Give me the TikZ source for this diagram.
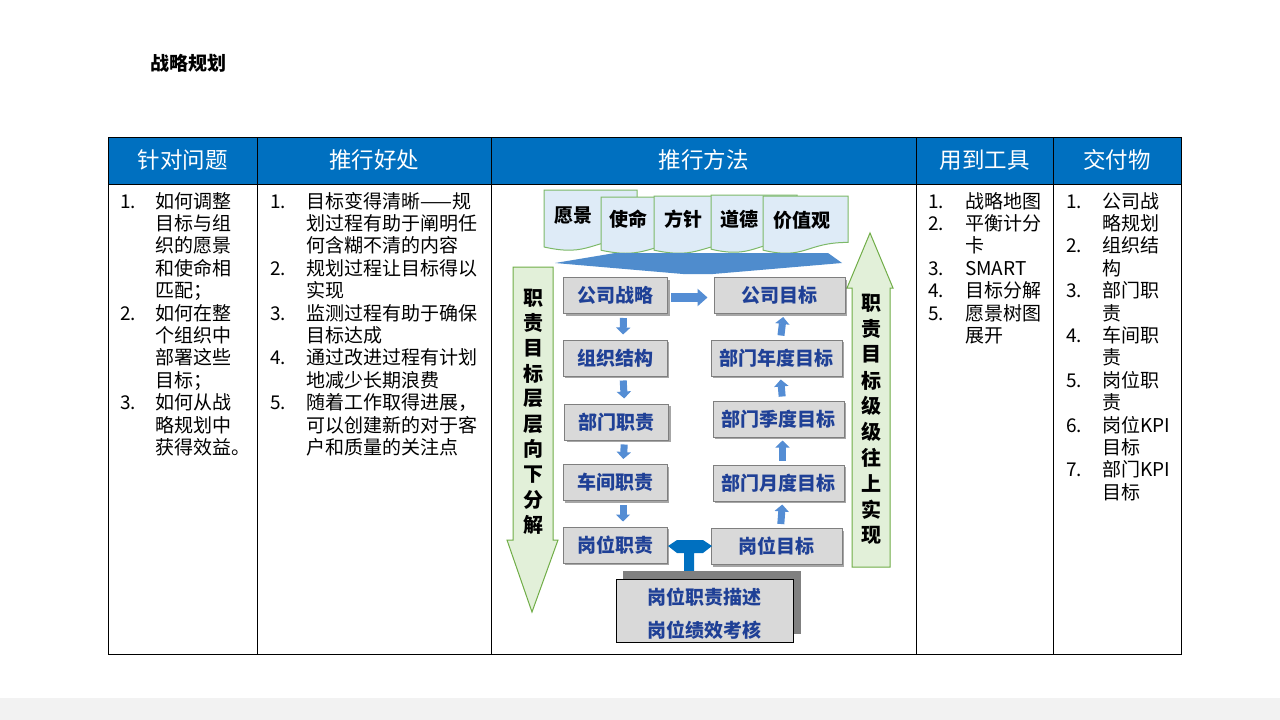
\documentclass[tikz,border=0pt]{standalone}
\usepackage{fontspec}
\setmainfont{Noto Sans CJK SC}
\usetikzlibrary{arrows.meta,shadows}
\definecolor{hdrblue}{RGB}{0,112,192}
\definecolor{boxgray}{RGB}{217,217,217}
\definecolor{boxedge}{RGB}{127,127,127}
\definecolor{txtblue}{RGB}{31,64,150}
\definecolor{docfill}{RGB}{222,235,247}
\definecolor{docedge}{RGB}{125,185,105}
\definecolor{grnfill}{RGB}{226,240,217}
\definecolor{grnedge}{RGB}{112,173,71}
\definecolor{arrblue}{RGB}{84,141,212}
\definecolor{wideblue}{RGB}{79,140,205}
\definecolor{tblue}{RGB}{0,112,192}
\definecolor{footgray}{RGB}{242,242,242}
\newcommand{\docshp}[5]{%
  \draw[docstyle] (#1,#2) -- (#3,#2) -- (#3,{#2+0.80*#4})
    .. controls ({(#1+#3)/2},{#2+0.80*#4}) and ({(#1+#3)/2},{#2+1.107*#4}) .. (#1,{#2+0.934*#4}) -- cycle;}
\begin{document}
\begin{tikzpicture}[x=1pt,y=-1pt,
  body/.style={font=\fontsize{19}{22}\selectfont, anchor=base west, inner sep=0pt},
  hdr/.style={font=\fontsize{22.5}{26}\selectfont, text=white, inner sep=0pt},
  gbox/.style={draw=boxedge, fill=boxgray, line width=1pt, text=txtblue,
    font=\bfseries\fontsize{19}{22}\selectfont, inner sep=0pt,
    drop shadow={shadow xshift=2pt,shadow yshift=-2pt,opacity=0.35,fill=black}},
  lbox/.style={gbox, minimum width=104pt, minimum height=36pt},
  rbox/.style={gbox, minimum width=131pt, minimum height=36pt},
  doctext/.style={font=\bfseries\fontsize{19}{22}\selectfont, inner sep=0pt},
  vchar/.style={font=\bfseries\fontsize{20}{22}\selectfont, inner sep=0pt},
  docstyle/.style={draw=docedge, fill=docfill, line width=1pt},
  smallarr/.style={draw=arrblue, line width=7pt, -{Triangle[width=14pt,length=7pt]}},
  bigarr/.style={draw=arrblue, line width=9pt, -{Triangle[width=17pt,length=10pt]}},
  grid/.style={line width=1pt, draw=black}]
\useasboundingbox (0,0) rectangle (1280,720);
\fill[white] (0,0) rectangle (1280,720);
\fill[footgray] (0,698) rectangle (1280,720);
% title
\node[font=\bfseries\fontsize{19}{22}\selectfont, anchor=base west, inner sep=0pt] (title) at (150,70) {战略规划};
% table
\fill[hdrblue] (108,137) rectangle (1181,184);
\draw[grid] (108,137) rectangle (1181,654);
\draw[grid] (108,184) -- (1181,184);
\foreach \xx in {257,491,916,1053} \draw[grid] (\xx,137) -- (\xx,654);
\node[hdr] (h1) at (182.5,160) {针对问题};
\node[hdr] (h2) at (374,160) {推行好处};
\node[hdr] (h3) at (703.5,160) {推行方法};
\node[hdr] (h4) at (984.5,160) {用到工具};
\node[hdr] (h5) at (1117,160) {交付物};
% column 1
\foreach \t [count=\i from 0] in {如何调整,目标与组,织的愿景,和使命相,匹配；,如何在整,个组织中,部署这些,目标；,如何从战,略规划中,获得效益。}
  \node[body] (ca\i) at (155,{208+22.4*\i}) {\t};
\foreach \n/\k in {1/0,2/5,3/9}
  \node[body] (na\n) at (120,{208+22.4*\k}) {\n.};
% column 2
\foreach \t [count=\i from 0] in {目标变得清晰——规,划过程有助于阐明任,何含糊不清的内容,规划过程让目标得以,实现,监测过程有助于确保,目标达成,通过改进过程有计划,地减少长期浪费,随着工作取得进展，,可以创建新的对于客,户和质量的关注点}
  \node[body] (cb\i) at (306,{208+22.4*\i}) {\t};
\foreach \n/\k in {1/0,2/3,3/5,4/7,5/9}
  \node[body] (nb\n) at (270,{208+22.4*\k}) {\n.};
% column 4
\foreach \t [count=\i from 0] in {战略地图,平衡计分,卡,SMART,目标分解,愿景树图,展开}
  \node[body] (cd\i) at (965,{208+22.4*\i}) {\t};
\foreach \n/\k in {1/0,2/1,3/3,4/4,5/5}
  \node[body] (nd\n) at (928,{208+22.4*\k}) {\n.};
% column 5
\foreach \t [count=\i from 0] in {公司战,略规划,组织结,构,部门职,责,车间职,责,岗位职,责,岗位KPI,目标,部门KPI,目标}
  \node[body] (ce\i) at (1102,{208+22.4*\i}) {\t};
\foreach \n/\k in {1/0,2/2,3/4,4/6,5/8,6/10,7/12}
  \node[body] (ne\n) at (1066,{208+22.4*\k}) {\n.};
% document shapes
\docshp{544}{190}{637}{61}{}
\docshp{601}{197}{694}{57}{}
\docshp{654}{196}{747}{58}{}
\docshp{711}{195}{797}{58}{}
\docshp{763}{196}{848}{58}{}
\node[doctext] (d1) at (573,216) {愿景};
\node[doctext] (d2) at (628,219) {使命};
\node[doctext] (d3) at (683,219) {方针};
\node[doctext] (d4) at (739,219) {道德};
\node[doctext] (d5) at (802,220) {价值观};
% wide blue shape
\fill[wideblue] (555,263) -- (615,253) -- (828,253) -- (842,263) -- (713,274) -- (683,274) -- cycle;
% green arrows
\draw[draw=grnedge, fill=grnfill, line width=1pt] (513,267) -- (553,267) -- (553,540) -- (558,540) -- (532,612) -- (507,540) -- (513,540) -- cycle;
\draw[draw=grnedge, fill=grnfill, line width=1pt] (870,233) -- (893,288) -- (890,288) -- (890,567) -- (852,567) -- (852,288) -- (847,288) -- cycle;
\foreach \c [count=\i from 0] in {职,责,目,标,层,层,向,下,分,解}
  \node[vchar] (lv\i) at (533,{298+25.2*\i}) {\c};
\foreach \c [count=\i from 0] in {职,责,目,标,级,级,往,上,实,现}
  \node[vchar] (rv\i) at (871,{303+25.8*\i}) {\c};
% gray boxes
\node[lbox] (gs1) at (615.5,295.5) {公司战略};
\node[rbox] (gt1) at (779.5,295.5) {公司目标};
\node[lbox] (gs2) at (615,358) {组织结构};
\node[rbox] (gt2) at (776.5,358) {部门年度目标};
\node[lbox] (gs3) at (616.5,422) {部门职责};
\node[rbox] (gt3) at (778.5,419) {部门季度目标};
\node[lbox] (gs4) at (615,482.5) {车间职责};
\node[rbox] (gt4) at (778.5,483) {部门月度目标};
\node[lbox] (gs5) at (615,545) {岗位职责};
\node[rbox] (gt5) at (776.5,546.5) {岗位目标};
% small arrows
\foreach \a/\b in {gs1/gs2,gs2/gs3,gs3/gs4,gs4/gs5}
  \draw[smallarr, shorten <=4pt, shorten >=5pt] ([xshift=8pt]\a.south) -- ([xshift=8pt]\b.north);
\foreach \a/\b in {gt2/gt1,gt3/gt2,gt4/gt3,gt5/gt4}
  \draw[smallarr, shorten <=4pt, shorten >=3pt] ([xshift=4pt]\a.north) -- ([xshift=4pt]\b.south);
\draw[bigarr, shorten <=3pt, shorten >=6pt] ([yshift=-2pt]gs1.east) -- ([yshift=-2pt]gt1.west);
% T connector
\fill[tblue] (668,546) -- (677,540) -- (703,540) -- (712,546) -- (703,553) -- (694,553) -- (694,571) -- (684,571) -- (684,553) -- (677,553) -- cycle;
% bottom box
\fill[black!50] (623,571) rectangle (801,634);
\draw[fill=boxgray, draw=black, line width=1pt] (616,579) rectangle (793,642);
\node[doctext, text=txtblue] (pb1) at (704.5,597) {岗位职责描述};
\node[doctext, text=txtblue] (pb2) at (704.5,630) {岗位绩效考核};
\end{tikzpicture}
\end{document}
